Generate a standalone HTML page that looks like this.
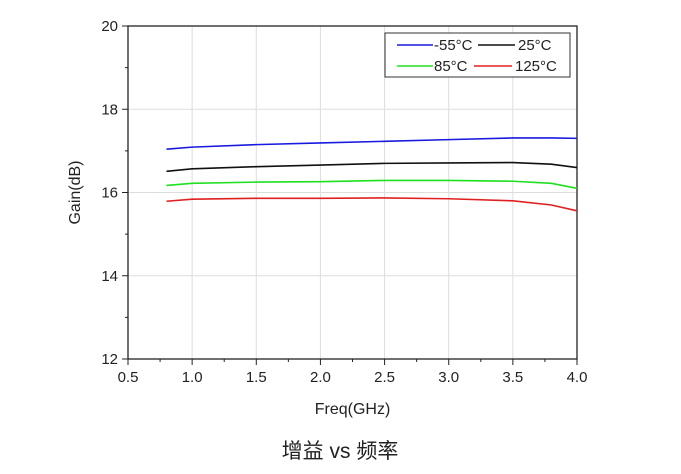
<!DOCTYPE html>
<html><head><meta charset="utf-8"><style>
body{margin:0;background:#fff;width:681px;height:469px;overflow:hidden}
svg text{font-family:"Liberation Sans",Arial,sans-serif;fill:#222}
</style></head><body>
<svg id="c" width="681" height="469"></svg>
<script>
const freqs=[0.8,1.0,1.5,2.0,2.5,3.0,3.5,3.8,4.0];
const gainM55=[17.04,17.09,17.15,17.19,17.23,17.27,17.31,17.31,17.30];
const gain25=[16.51,16.57,16.62,16.66,16.70,16.71,16.72,16.68,16.60];
const gain85=[16.17,16.22,16.25,16.26,16.29,16.29,16.27,16.22,16.10];
const gain125=[15.79,15.84,15.86,15.86,15.87,15.85,15.80,15.70,15.56];
const xTicks=[0.5,1.0,1.5,2.0,2.5,3.0,3.5,4.0];
const yTicks=[12,14,16,18,20];
const seriesNames=["-55°C","25°C","85°C","125°C"];
const colors=["#1a1adf","#111","#1ee01e","#e02020"];
const L=128,R=577,T=26,B=359;
const X=v=>L+(v-0.5)/3.5*(R-L), Y=v=>B-(v-12)/8*(B-T);
const s=document.getElementById('c'),NS='http://www.w3.org/2000/svg';
function el(t,a,p){const e=document.createElementNS(NS,t);for(const k in a)e.setAttribute(k,a[k]);(p||s).appendChild(e);return e;}
xTicks.forEach(v=>{if(v>0.5&&v<4){const g=el('line',{x1:X(v),x2:X(v),y1:T,y2:B,stroke:'#ddd'});}
 const tk=el('line',{x1:X(v),x2:X(v),y1:B,y2:B+6,stroke:'#222'});
 const t=el('text',{x:X(v),y:B+23,'text-anchor':'middle','font-size':15});t.textContent=v.toFixed(1);});
for(let i=0;i<7;i++){const v=0.75+i*0.5;const tk=el('line',{x1:X(v),x2:X(v),y1:B,y2:B+3,stroke:'#222'});}
yTicks.forEach(v=>{if(v>12&&v<20){const g=el('line',{x1:L,x2:R,y1:Y(v),y2:Y(v),stroke:'#ddd'});}
 const tk=el('line',{x1:L-6,x2:L,y1:Y(v),y2:Y(v),stroke:'#222'});
 const t=el('text',{x:L-10,y:Y(v)+5,'text-anchor':'end','font-size':15});t.textContent=v;});
for(let v=13;v<20;v+=2){const tk=el('line',{x1:L-3,x2:L,y1:Y(v),y2:Y(v),stroke:'#222'});}
const fr=el('rect',{x:L,y:T,width:R-L,height:B-T,fill:'none',stroke:'#222','stroke-width':1.3});
[gainM55,gain25,gain85,gain125].forEach((d,i)=>{const p=el('polyline',{points:d.map((v,j)=>X(freqs[j])+','+Y(v)).join(' '),fill:'none',stroke:colors[i],'stroke-width':1.6});});
const lb=el('rect',{x:385,y:33,width:185,height:44,fill:'#fff',stroke:'#333'});
const pos=[[397,45],[478,45],[397,66],[474,66]];
const lens=[36,37,36,38];
seriesNames.forEach((n,i)=>{const [x,y]=pos[i];const w=lens[i];
 const ln=el('line',{x1:x,x2:x+w,y1:y,y2:y,stroke:colors[i],'stroke-width':1.6});
 const t=el('text',{x:x+w+(i%2?3:1),y:y+5,'font-size':15});t.textContent=n;});
const xt=el('text',{x:(L+R)/2,y:414,'text-anchor':'middle','font-size':16});xt.textContent='Freq(GHz)';
const yt=el('text',{x:0,y:0,'text-anchor':'middle','font-size':16,transform:'translate(80,'+(T+B)/2+') rotate(-90)'});yt.textContent='Gain(dB)';
const ct=el('text',{x:340,y:458,'text-anchor':'middle','font-size':21,style:'font-family:"Liberation Sans","Noto Sans CJK SC",sans-serif'});ct.textContent='增益 vs 频率';
</script></body></html>
